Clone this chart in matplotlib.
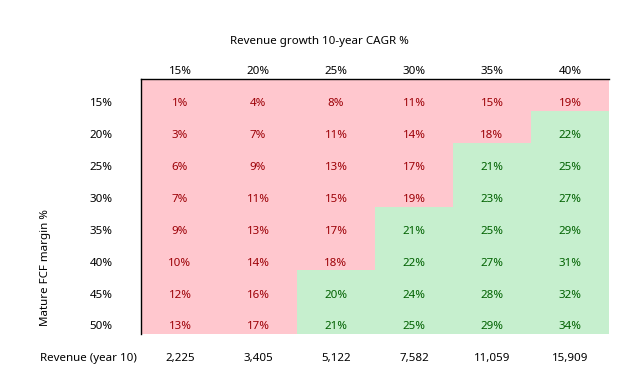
import numpy as np
import matplotlib
matplotlib.use('Agg')
import matplotlib.pyplot as plt
from matplotlib.colors import ListedColormap

growth = ['15%', '20%', '25%', '30%', '35%', '40%']
margins = ['15%', '20%', '25%', '30%', '35%', '40%', '45%', '50%']
irr = np.array([
    [1, 4, 8, 11, 15, 19],
    [3, 7, 11, 14, 18, 22],
    [6, 9, 13, 17, 21, 25],
    [7, 11, 15, 19, 23, 27],
    [9, 13, 17, 21, 25, 29],
    [10, 14, 18, 22, 27, 31],
    [12, 16, 20, 24, 28, 32],
    [13, 17, 21, 25, 29, 34],
])
revenue = ['2,225', '3,405', '5,122', '7,582', '11,059', '15,909']
hurdle = 20

red_fill, green_fill = '#FFC7CE', '#C6EFCE'
red_text, green_text = '#9C0006', '#006100'


def main():
    plt.rcParams['font.family'] = ['Noto Sans', 'DejaVu Sans']
    fs = 8.3

    fig = plt.figure(figsize=(6.4, 3.83), dpi=100)
    ax = fig.add_axes([141 / 640, 49 / 383, 468 / 640, 255 / 383])

    good = (irr >= hurdle).astype(int)
    ax.pcolormesh(np.arange(7), np.arange(9), good,
                  cmap=ListedColormap([red_fill, green_fill]), vmin=0, vmax=1)
    ax.set_xlim(0, 6)
    ax.set_ylim(8, 0)
    ax.axis('off')

    # top and left borders
    ax.plot([0, 6], [0, 0], color='black', lw=1.0, clip_on=False)
    ax.plot([0, 0], [0, 8], color='black', lw=1.0, clip_on=False)

    for i in range(len(margins)):
        for j in range(len(growth)):
            c = green_text if good[i, j] else red_text
            ax.text(j + 0.5, i + 0.78, f'{irr[i, j]}%', color=c,
                    ha='center', va='center', fontsize=fs)

    for j, g in enumerate(growth):
        ax.text(j + 0.5, -0.23, g, ha='center', va='center', fontsize=fs, clip_on=False)
        ax.text(j + 0.5, 8.78, revenue[j], ha='center', va='center', fontsize=fs, clip_on=False)
    for i, m in enumerate(margins):
        ax.text(-0.51, i + 0.78, m, ha='center', va='center', fontsize=fs, clip_on=False)

    ax.text(-0.67, 8.78, 'Revenue (year 10)', ha='center', va='center', fontsize=fs, clip_on=False)
    ax.text(2.29, -1.17, 'Revenue growth 10-year CAGR %', ha='center', va='center', fontsize=fs, clip_on=False)
    ax.text(-1.22, 5.92, 'Mature FCF margin %', ha='center', va='center', rotation=90,
            fontsize=fs, clip_on=False)

    fig.savefig('out.png', dpi=100)


if __name__ == '__main__':
    main()
